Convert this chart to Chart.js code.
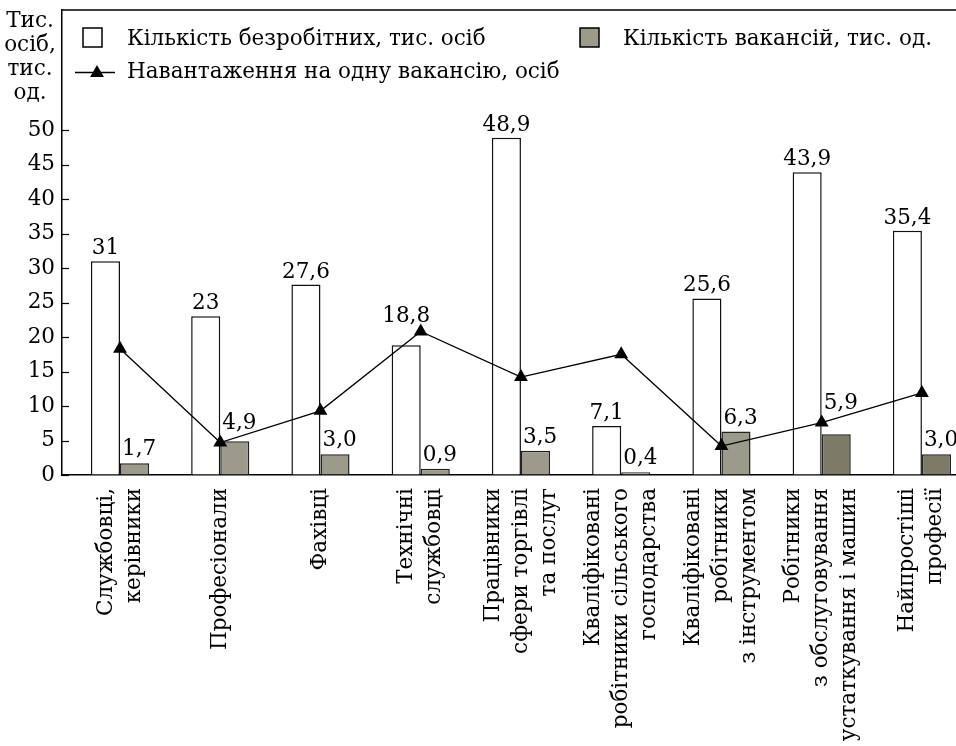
<!DOCTYPE html>
<html>
<head>
<meta charset="utf-8">
<script src="https://cdn.jsdelivr.net/npm/chart.js@4"></script>
<style>
  html, body { margin: 0; padding: 0; background: #fff; overflow: hidden; }
  #wrap { width: 956px; height: 746px; }
</style>
</head>
<body>
<div id="wrap"><canvas id="chart-area" width="956" height="746"></canvas></div>
<script>
'use strict';

var categories = [
   ['Службовці,', 'керівники'],
   ['Професіонали'],
   ['Фахівці'],
   ['Технічні', 'службовці'],
   ['Працівники', 'сфери торгівлі', 'та послуг'],
   ['Кваліфіковані', 'робітники сільського', 'господарства'],
   ['Кваліфіковані', 'робітники', 'з інструментом'],
   ['Робітники', 'з обслуговування', 'устаткування і машин'],
   ['Найпростіші', 'професії']
];
var unemployed = [31, 23, 27.6, 18.8, 48.9, 7.1, 25.6, 43.9, 35.4];
var vacancies = [1.7, 4.9, 3.0, 0.9, 3.5, 0.4, 6.3, 5.9, 3.0];
var loadPerVacancy = [18.3, 4.7, 9.3, 20.8, 14.2, 17.5, 4.2, 7.6, 11.9];
var yTicks = [0, 5, 10, 15, 20, 25, 30, 35, 40, 45, 50];
var axisTitle = ['Тис.', 'осіб,', 'тис.', 'од.'];

var labelUnemployed = 'Кількість безробітних, тис. осіб';
var labelVacancies = 'Кількість вакансій, тис. од.';
var labelLoad = 'Навантаження на одну вакансію, осіб';

var FONT = "'DejaVu Serif', 'Liberation Serif', serif";
var FSIZE = 21.5;
var grayLight = '#9c9a8b';
var grayDark = '#7b7b68';
var vacancyColors = vacancies.map(function (v, i) { return i < 7 ? grayLight : grayDark; });

function toPoints(arr) {
   return arr.map(function (v, i) { return { x: i, y: v }; });
}
function fmt(v) { return String(v).replace('.', ','); }
function fmt1(v) { return v.toFixed(1).replace('.', ','); }

function triangle(ctx, x, y, r) {
   ctx.beginPath();
   for (var k = 0; k < 3; k++) {
      var a = k * 2 * Math.PI / 3;
      var px = x + Math.sin(a) * r, py = y - Math.cos(a) * r;
      if (k === 0) ctx.moveTo(px, py); else ctx.lineTo(px, py);
   }
   ctx.closePath();
   ctx.fill();
}

var decorations = {
   id: 'decorations',
   afterDraw: function (chart) {
      var ctx = chart.ctx;
      var area = chart.chartArea;
      var xs = chart.scales.x, ys = chart.scales.y;
      ctx.save();
      ctx.fillStyle = '#000';
      ctx.strokeStyle = '#000';

      // top frame line
      ctx.lineWidth = 1.5;
      ctx.beginPath();
      ctx.moveTo(area.left, area.top);
      ctx.lineTo(chart.width, area.top);
      ctx.stroke();

      // inward y ticks
      ctx.lineWidth = 1.2;
      yTicks.forEach(function (t) {
         var py = Math.round(ys.getPixelForValue(t)) + 0.5;
         ctx.beginPath();
         ctx.moveTo(area.left, py);
         ctx.lineTo(area.left + 7, py);
         ctx.stroke();
      });

      // axis title
      ctx.font = FSIZE + 'px ' + FONT;
      ctx.textAlign = 'center';
      ctx.textBaseline = 'alphabetic';
      axisTitle.forEach(function (t, i) {
         ctx.fillText(t, 30, 27 + i * 24);
      });

      // legend
      ctx.textAlign = 'left';
      ctx.lineWidth = 1.5;
      ctx.fillStyle = '#fff';
      ctx.fillRect(83, 28, 19, 19);
      ctx.strokeRect(83, 28, 19, 19);
      ctx.fillStyle = vacancyColors[0];
      ctx.fillRect(580, 28, 19, 19);
      ctx.strokeRect(580, 28, 19, 19);
      ctx.fillStyle = '#000';
      ctx.beginPath();
      ctx.moveTo(75, 72.5);
      ctx.lineTo(115, 72.5);
      ctx.stroke();
      triangle(ctx, 97, 73, 8);
      ctx.fillText(labelUnemployed, 127, 45);
      ctx.fillText(labelVacancies, 623, 45);
      ctx.fillText(labelLoad, 127, 78);

      // value labels, lifted above a line marker when they would collide
      var lineMeta = chart.getDatasetMeta(0);
      var whiteMeta = chart.getDatasetMeta(1);
      var grayMeta = chart.getDatasetMeta(2);
      whiteMeta.data.forEach(function (bar, i) {
         var base = bar.y - 7;
         var pt = lineMeta.data[i];
         if (pt.y < bar.y && pt.y > bar.y - 34) base = pt.y - 9;
         ctx.textAlign = 'center';
         ctx.fillText(fmt(unemployed[i]), bar.x, base);
      });
      grayMeta.data.forEach(function (bar, i) {
         var base = bar.y - 8;
         var pt = lineMeta.data[i];
         if (pt.y - 8 < base + 4 && pt.y + 4 > base - 16) base = Math.min(base, pt.y - 14);
         ctx.textAlign = 'left';
         ctx.fillText(fmt1(vacancies[i]), bar.x - bar.width / 2 + 2, base);
      });

      // category labels, rotated
      var lh = 28;
      categories.forEach(function (lines, i) {
         var cx = xs.getPixelForValue(i);
         lines.forEach(function (line, j) {
            var lx = cx + (j - (lines.length - 1) / 2) * lh;
            ctx.save();
            ctx.translate(lx, area.bottom + 13);
            ctx.rotate(-Math.PI / 2);
            ctx.textAlign = 'right';
            ctx.textBaseline = 'middle';
            ctx.fillText(line, 0, 0);
            ctx.restore();
         });
      });
      ctx.restore();
   }
};

var config = {
   data: {
      datasets: [{
         type: 'line',
         label: labelLoad,
         data: toPoints(loadPerVacancy),
         borderColor: '#000',
         backgroundColor: '#000',
         borderWidth: 1.3,
         pointStyle: 'triangle',
         pointRadius: 8,
         pointBorderWidth: 0,
         order: 0
      }, {
         type: 'bar',
         label: labelUnemployed,
         data: toPoints(unemployed),
         backgroundColor: '#fff',
         borderColor: '#111',
         borderWidth: 1.5,
         categoryPercentage: 0.58,
         barPercentage: 1,
         order: 1
      }, {
         type: 'bar',
         label: labelVacancies,
         data: toPoints(vacancies),
         backgroundColor: vacancyColors,
         borderColor: '#222',
         borderWidth: 1.5,
         categoryPercentage: 0.58,
         barPercentage: 1,
         order: 1
      }]
   },
   options: {
      responsive: false,
      animation: false,
      devicePixelRatio: 1,
      layout: { autoPadding: false, padding: { top: 10, right: 1, left: 0, bottom: 0 } },
      plugins: { legend: { display: false }, tooltip: { enabled: false } },
      scales: {
         x: {
            type: 'linear',
            offset: false,
            min: -0.5786,
            max: 8.33,
            afterBuildTicks: function (scale) {
               scale.ticks = categories.map(function (c, i) { return { value: i }; });
            },
            afterFit: function (scale) {
               scale.height = 271;
               scale.paddingLeft = 0;
               scale.paddingRight = 0;
            },
            ticks: { display: false },
            grid: { offset: false, drawOnChartArea: false, drawTicks: false },
            border: { display: true, color: '#000', width: 1.5 }
         },
         y: {
            min: 0,
            max: 67.4,
            afterBuildTicks: function (scale) {
               scale.ticks = yTicks.map(function (v) { return { value: v }; });
            },
            afterFit: function (scale) {
               scale.width = 62;
               scale.paddingTop = 0;
               scale.paddingBottom = 0;
            },
            ticks: {
               color: '#000',
               padding: 7,
               font: { family: FONT, size: FSIZE },
               callback: function (v) { return v; }
            },
            grid: { drawOnChartArea: false, drawTicks: false },
            border: { display: true, color: '#000', width: 1.5 }
         }
      }
   },
   plugins: [decorations]
};

window.onload = function () {
   var ctx = document.getElementById('chart-area').getContext('2d');
   window.myChart = new Chart(ctx, config);
};
</script>
</body>
</html>
